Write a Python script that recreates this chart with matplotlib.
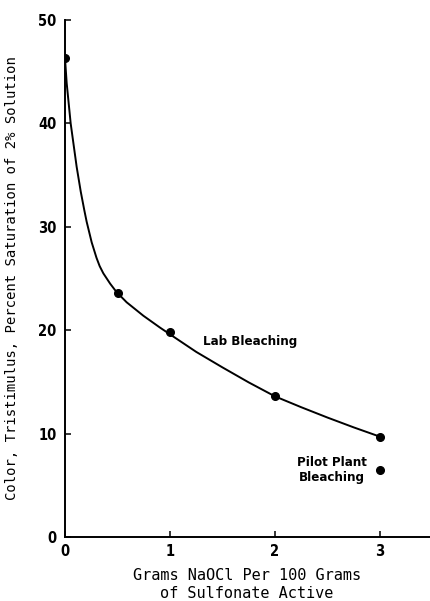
import matplotlib.pyplot as plt

# measured points (lab bleaching)
lab_x = [0, 0.5, 1, 2, 3]
lab_y = [46.3, 23.6, 19.8, 13.6, 9.7]

# pilot plant point
pilot_x = [3]
pilot_y = [6.5]

# hand drawn curve
curve_x = [0, 0.016, 0.054, 0.111, 0.15, 0.184, 0.206, 0.254, 0.30, 0.33, 0.365, 0.43, 0.49, 0.587, 0.746, 0.905,
           1.0, 1.25, 1.5, 1.75, 2.0, 2.25, 2.5, 2.75, 3.0]
curve_y = [46.3, 43.9, 40.0, 35.8, 33.4, 31.6, 30.5, 28.5, 27.0, 26.2, 25.5, 24.5, 23.7, 22.7, 21.4, 20.25,
           19.6, 17.9, 16.4, 14.95, 13.6, 12.55, 11.55, 10.6, 9.7]

x_ticks = [0, 1, 2, 3]
y_ticks = [0, 10, 20, 30, 40, 50]

tick_font = ['DejaVu Sans']
label_font = ['DejaVu Sans Mono']

fig = plt.figure(figsize=(4.3, 6.01), dpi=100)
ax = fig.add_axes([65/430, 64/601, 365/430, 517/601])

ax.plot(curve_x, curve_y, color="black", lw=1.4, zorder=2, solid_joinstyle="round")
ax.plot(lab_x, lab_y, "o", color="black", ms=5.5, zorder=3)
ax.plot(pilot_x, pilot_y, "o", color="black", ms=5.5, zorder=3)

ax.set_xlim(0, 3.476)
ax.set_ylim(0, 50)
ax.set_xticks(x_ticks)
ax.set_yticks(y_ticks)
ax.set_xticklabels([str(t) for t in x_ticks], family=tick_font, stretch="condensed", fontsize=10.5, fontweight="bold")
ax.set_yticklabels([str(t) for t in y_ticks], family=tick_font, stretch="condensed", fontsize=10.5, fontweight="bold")
ax.tick_params(axis="both", direction="in", length=4, width=1.1, colors="black")
ax.tick_params(axis="x", pad=5)
ax.tick_params(axis="y", pad=6)

ax.spines["top"].set_visible(False)
ax.spines["right"].set_visible(False)
ax.spines["left"].set_linewidth(1.4)
ax.spines["bottom"].set_linewidth(1.4)

ax.set_ylabel("Color, Tristimulus, Percent Saturation of 2% Solution", family=label_font, fontsize=10)
ax.yaxis.set_label_coords(-0.126, 0.5)
ax.set_xlabel("Grams NaOCl Per 100 Grams\nof Sulfonate Active", family=label_font, fontsize=11, linespacing=1.25)
ax.xaxis.set_label_coords(0.499, -0.06)

ax.text(1.31, 18.95, "Lab Bleaching", family=tick_font, stretch="condensed", fontsize=9.5,
        fontweight="bold", ha="left", va="center")
ax.text(2.54, 6.5, "Pilot Plant\nBleaching", family=tick_font, stretch="condensed", fontsize=9.5,
        fontweight="bold", ha="center", va="center", linespacing=1.25)

plt.savefig("out.png", dpi=100)
